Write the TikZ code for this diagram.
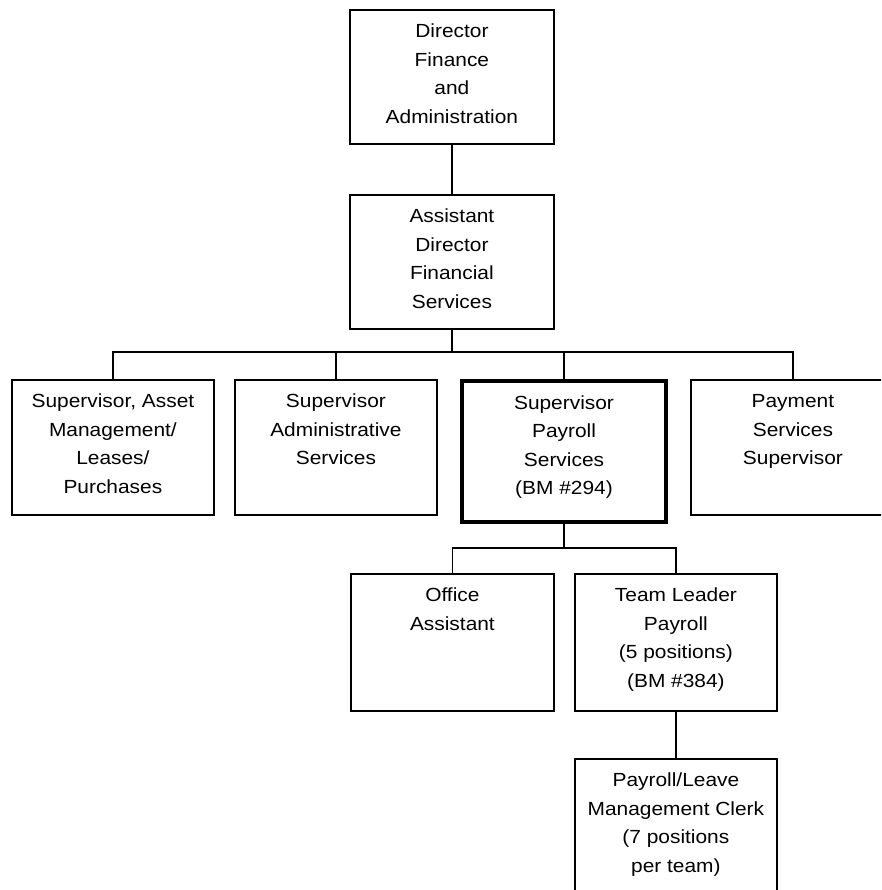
\documentclass[tikz,border=0pt]{standalone}
\usepackage{fontspec}
\setmainfont{Liberation Sans}[FakeStretch=1.1]
\usepackage{tikz}
\usetikzlibrary{calc}
\newcommand{\orgfont}{\fontsize{19}{28.5}\selectfont}
% box text sits at the top of the box
\newcommand{\orgtext}[3]{\parbox[t][#2][t]{#1}{\centering\rule{0pt}{28pt}#3}}
\tikzstyle{post}=[draw,
                  line width=1.8pt,
                  anchor=north west,
                  inner sep=0pt,
                  font=\orgfont]
\tikzstyle{keypost}=[post,
                     line width=4pt]
\tikzstyle{link}=[line width=1.8pt]

\begin{document}
\begin{tikzpicture}[x=1pt,y=-1pt]
    \useasboundingbox (0,0) rectangle (881,890);
    \clip (0,0) rectangle (881,890);
    \node[post] (director) at (349,9) {\orgtext{204pt}{134pt}{Director\\Finance\\and\\Administration}};
    \node[post] (assistant) at (349,194) {\orgtext{204pt}{134pt}{Assistant\\Director\\Financial\\Services}};
    \node[post] (asset) at (11,379) {\orgtext{202pt}{135pt}{Supervisor, Asset\\Management/\\Leases/\\Purchases}};
    \node[post] (admin) at (234,379) {\orgtext{202pt}{135pt}{Supervisor\\Administrative\\Services}};
    \node[keypost] (payroll) at (460,379) {\orgtext{204pt}{141pt}{Supervisor\\Payroll\\Services\\(BM \#294)}};
    \node[post] (payment) at (690,379) {\orgtext{204pt}{135pt}{Payment\\Services\\Supervisor}};
    \node[post] (office) at (350,573) {\orgtext{203pt}{137pt}{Office\\Assistant}};
    \node[post] (leader) at (574,573) {\orgtext{202pt}{137pt}{Team Leader\\Payroll\\(5 positions)\\(BM \#384)}};
    \node[post] (clerk) at (574,758) {\orgtext{202pt}{170pt}{Payroll/Leave\\Management Clerk\\(7 positions\\per team)}};
    \coordinate (busA) at (0,352);
    \coordinate (busB) at (0,548);
    \draw[link] (director.south) -- (assistant.north);
    \draw[link] (assistant.south) -- (assistant.south |- busA);
    \draw[link] (asset.north) |- (busA -| payment.north) -- (payment.north);
    \draw[link] (admin.north) -- (admin.north |- busA);
    \draw[link] (payroll.north) -- (payroll.north |- busA);
    \draw[link] (payroll.south) -- (payroll.south |- busB);
    \draw[link] (office.north) |- (busB -| leader.north) -- (leader.north);
    \draw[link] (leader.south) -- (clerk.north);
\end{tikzpicture}
\end{document}
